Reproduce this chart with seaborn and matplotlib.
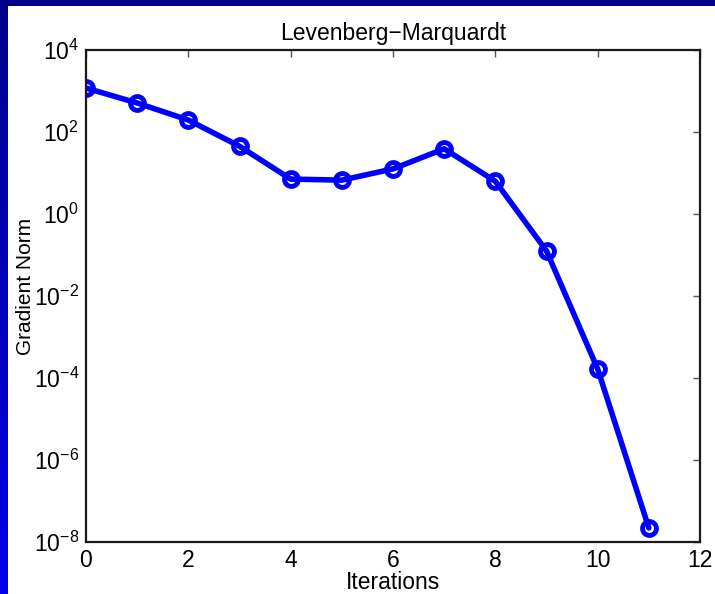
import numpy as np
import pandas as pd
import matplotlib
matplotlib.use("Agg")
import matplotlib.pyplot as plt
from matplotlib.colors import LinearSegmentedColormap
from matplotlib.ticker import FixedLocator, LogFormatterSciNotation, NullLocator
import seaborn as sns

# Gradient norm at each Levenberg-Marquardt iteration
iterations = [0, 1, 2, 3, 4, 5, 6, 7, 8, 9, 10, 11]
grad_norm = [1180, 510, 196, 45, 7.1, 6.7, 12.6, 39, 6.3, 0.126, 1.66e-4, 2.2e-8]

x_ticks = [0, 2, 4, 6, 8, 10, 12]
y_ticks = [1e-8, 1e-6, 1e-4, 1e-2, 1e0, 1e2, 1e4]

sns.set_theme(style="white")
plt.rcParams["font.family"] = ["Liberation Sans", "DejaVu Sans"]
plt.rcParams["mathtext.fontset"] = "custom"
plt.rcParams["mathtext.rm"] = "Liberation Sans"
plt.rcParams["mathtext.it"] = "Liberation Sans:italic"

fig = plt.figure(figsize=(7.15, 5.94), dpi=100)
fig.patch.set_facecolor("white")

# Blue frame: gradient strip on the left, solid band on top
strip = fig.add_axes([0, 0, 7 / 715, 1])
grad = np.linspace(0, 1, 256).reshape(-1, 1)
cmap = LinearSegmentedColormap.from_list("frame", ["#00008A", "#0000EA"])
strip.imshow(grad, aspect="auto", cmap=cmap, extent=[0, 1, 0, 1], origin="upper")
strip.set_axis_off()
top = fig.add_axes([0, 1 - 6 / 594, 1, 6 / 594])
top.set_facecolor("#00008B")
top.set_xticks([])
top.set_yticks([])
for s in top.spines.values():
    s.set_visible(False)

ax = fig.add_axes([86 / 715, 1 - 542 / 594, (700 - 86) / 715, (542 - 50) / 594])
df = pd.DataFrame({"Iterations": iterations, "Gradient Norm": grad_norm})
sns.lineplot(data=df, x="Iterations", y="Gradient Norm", ax=ax, color="#0000FF",
             linewidth=4, marker="o", markersize=10, markerfacecolor="none",
             markeredgecolor="#0000FF", markeredgewidth=3.5)

ax.set_yscale("log")
ax.set_xlim(0, 12)
ax.set_ylim(1e-8, 1e4)
ax.xaxis.set_major_locator(FixedLocator(x_ticks))
ax.yaxis.set_major_locator(FixedLocator(y_ticks))
ax.yaxis.set_major_formatter(LogFormatterSciNotation())
ax.yaxis.set_minor_locator(NullLocator())
ax.tick_params(axis="both", which="major", direction="in", length=5, width=1,
               color="#555555", labelsize=16.5, top=True, right=True,
               labelcolor="black")
ax.tick_params(axis="x", pad=5)
ax.tick_params(axis="y", pad=5)
for s in ax.spines.values():
    s.set_color("#1a1a1a")
    s.set_linewidth(1.6)
ax.set_xlabel("Iterations", fontsize=16.5, color="black")
ax.set_ylabel("Gradient Norm", fontsize=15, color="black")
ax.xaxis.set_label_coords(0.5, -0.059)
ax.yaxis.set_label_coords(-0.083, 0.52)
ax.set_title("Levenberg\u2212Marquardt", fontsize=16.5, pad=7, color="black")
ax.grid(False)

fig.savefig("out.png", dpi=100)
